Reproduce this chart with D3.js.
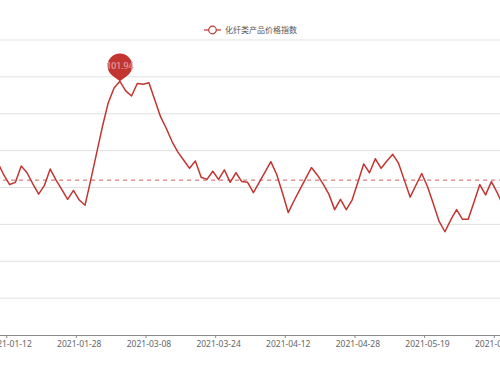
<!DOCTYPE html>
<html>
<head>
<meta charset="utf-8">
<script src="https://cdn.jsdelivr.net/npm/d3@7"></script>
<style>
    html, body { margin: 0; padding: 0; background: #fff; overflow: hidden; }
</style>
</head>
<body>
<div id="grafico"></div>
<script>
const seriesName = "化纤类产品价格指数";

const dates = [
    "2021-01-08", "2021-01-11", "2021-01-12", "2021-01-13", "2021-01-14", "2021-01-15", "2021-01-18", "2021-01-19",
    "2021-01-20", "2021-01-21", "2021-01-22", "2021-01-25", "2021-01-26", "2021-01-27", "2021-01-28",
    "2021-01-29", "2021-02-01", "2021-02-02", "2021-02-03", "2021-02-04", "2021-02-05", "2021-02-08", "2021-02-09",
    "2021-02-10", "2021-02-22", "2021-03-01",
    "2021-03-08", "2021-03-09", "2021-03-10", "2021-03-11", "2021-03-12", "2021-03-15", "2021-03-16", "2021-03-17",
    "2021-03-18", "2021-03-19", "2021-03-22", "2021-03-23", "2021-03-24",
    "2021-03-25", "2021-03-26", "2021-03-29", "2021-03-30", "2021-03-31", "2021-04-01", "2021-04-02", "2021-04-06",
    "2021-04-07", "2021-04-08", "2021-04-09", "2021-04-12",
    "2021-04-13", "2021-04-14", "2021-04-15", "2021-04-16", "2021-04-19", "2021-04-20", "2021-04-21", "2021-04-22",
    "2021-04-23", "2021-04-26", "2021-04-27", "2021-04-28",
    "2021-04-29", "2021-04-30", "2021-05-06", "2021-05-07", "2021-05-10", "2021-05-11", "2021-05-12", "2021-05-13",
    "2021-05-14", "2021-05-17", "2021-05-18", "2021-05-19",
    "2021-05-20", "2021-05-21", "2021-05-24", "2021-05-25", "2021-05-26", "2021-05-27", "2021-05-28", "2021-05-31",
    "2021-06-01", "2021-06-02", "2021-06-03", "2021-06-04", "2021-06-07"
];

const values = [
    100.83, 100.67, 100.54, 100.57, 100.79, 100.70, 100.55, 100.41, 100.53, 100.75, 100.60, 100.47, 100.34, 100.46, 100.33, 100.26,
    100.61, 100.97, 101.33, 101.65, 101.85, 101.94, 101.81, 101.74, 101.91, 101.90, 101.92, 101.69, 101.46, 101.30, 101.12, 100.98, 100.87, 100.76,
    100.86, 100.64, 100.61, 100.72, 100.61, 100.74, 100.57, 100.70, 100.58, 100.57,
    100.43, 100.57, 100.71, 100.85, 100.68, 100.43, 100.16, 100.32, 100.47, 100.62,
    100.77, 100.67, 100.55, 100.41, 100.20, 100.34, 100.20, 100.33, 100.57, 100.82,
    100.70, 100.89, 100.76, 100.86, 100.95, 100.83, 100.60, 100.37, 100.53, 100.69,
    100.51, 100.28, 100.04, 99.90, 100.06, 100.20, 100.07, 100.07, 100.30, 100.54,
    100.40, 100.58, 100.43, 100.26
];

const tickLabels = ["2021-01-12", "2021-01-28", "2021-03-08", "2021-03-24", "2021-04-12", "2021-04-28", "2021-05-19", "2021-06-04"];
const yTicks = [98.5, 99, 99.5, 100, 100.5, 101, 101.5, 102, 102.5];
const averageValue = 100.60;

const color = "#c23531";

function generarGrafico() {
    const width = 500;
    const height = 375;
    // the plot runs past both edges of the window, as in the cropped original
    const grid = { left: -4.9, right: 505.9, top: 40, bottom: 335 };

    const datos = dates.map((d, i) => ({ fecha: d, valor: values[i] }));

    const svg = d3.select("#grafico")
        .append("svg")
        .attr("width", width)
        .attr("height", height);

    const x = d3.scaleBand()
        .domain(dates)
        .range([grid.left, grid.right])
        .padding(0);

    const y = d3.scaleLinear()
        .domain([yTicks[0], yTicks[yTicks.length - 1]])
        .range([grid.bottom, grid.top]);

    const cx = d => x(d) + x.bandwidth() / 2;

    // gridlines
    svg.append("g")
        .selectAll("line")
        .data(yTicks.slice(1))
        .enter()
        .append("line")
        .attr("x1", grid.left)
        .attr("x2", grid.right)
        .attr("y1", d => y(d))
        .attr("y2", d => y(d))
        .attr("stroke", "#e0e0e0")
        .attr("stroke-width", 1);

    // x axis
    const xAxis = svg.append("g")
        .attr("transform", `translate(0, ${grid.bottom})`)
        .call(d3.axisBottom(x)
            .tickValues(tickLabels)
            .tickSize(0)
            .tickPadding(6));

    xAxis.select(".domain").attr("stroke", "#8a8a8a");
    xAxis.selectAll("text")
        .attr("fill", "#666")
        .attr("font-size", "8.5px")
        .attr("font-family", "'Noto Sans', sans-serif");

    svg.append("g")
        .selectAll("line")
        .data(tickLabels)
        .enter()
        .append("line")
        .attr("x1", d => x(d))
        .attr("x2", d => x(d))
        .attr("y1", grid.bottom)
        .attr("y2", grid.bottom + 3)
        .attr("stroke", "#8a8a8a");

    // average mark line
    svg.append("line")
        .attr("x1", grid.left)
        .attr("x2", grid.right)
        .attr("y1", y(averageValue))
        .attr("y2", y(averageValue))
        .attr("stroke", color)
        .attr("stroke-opacity", 0.8)
        .attr("stroke-width", 1)
        .attr("stroke-dasharray", "4,4");

    // series line
    const linea = d3.line()
        .x(d => cx(d.fecha))
        .y(d => y(d.valor));

    svg.append("path")
        .datum(datos)
        .attr("fill", "none")
        .attr("stroke", color)
        .attr("stroke-width", 1.5)
        .attr("stroke-linejoin", "round")
        .attr("d", linea);

    // max mark point (pin)
    const maxDato = datos.reduce((a, b) => (b.valor > a.valor ? b : a));
    const px = cx(maxDato.fecha);
    const py = y(maxDato.valor);
    const r = 12.3;
    const cy = py - 15.4;
    const sx = r * 0.6;
    const sy = r * 0.8;

    svg.append("path")
        .attr("d", `M${px},${py} L${px - sx},${cy + sy} A${r},${r} 0 1 1 ${px + sx},${cy + sy} Z`)
        .attr("fill", color);

    svg.append("text")
        .attr("x", px)
        .attr("y", cy)
        .attr("dy", "0.35em")
        .attr("text-anchor", "middle")
        .attr("font-size", "8.6px")
        .attr("font-family", "'Noto Sans', sans-serif")
        .attr("fill", "#fff")
        .attr("stroke", "#c23531")
        .attr("stroke-width", 0.3)
        .text(maxDato.valor.toFixed(2));

    // legend
    const legend = svg.append("g")
        .attr("transform", "translate(204, 30)");

    legend.append("line")
        .attr("x1", 0)
        .attr("x2", 17)
        .attr("y1", 0)
        .attr("y2", 0)
        .attr("stroke", color)
        .attr("stroke-width", 1.2);

    legend.append("circle")
        .attr("cx", 8.5)
        .attr("cy", 0)
        .attr("r", 3.8)
        .attr("fill", "#fff")
        .attr("stroke", color)
        .attr("stroke-width", 1.2);

    legend.append("text")
        .attr("x", 21)
        .attr("y", 0)
        .attr("dy", "0.35em")
        .attr("font-size", "8px")
        .attr("font-family", "'Noto Sans CJK SC', sans-serif")
        .attr("fill", "#555")
        .text(seriesName);
}

generarGrafico();
</script>
</body>
</html>
